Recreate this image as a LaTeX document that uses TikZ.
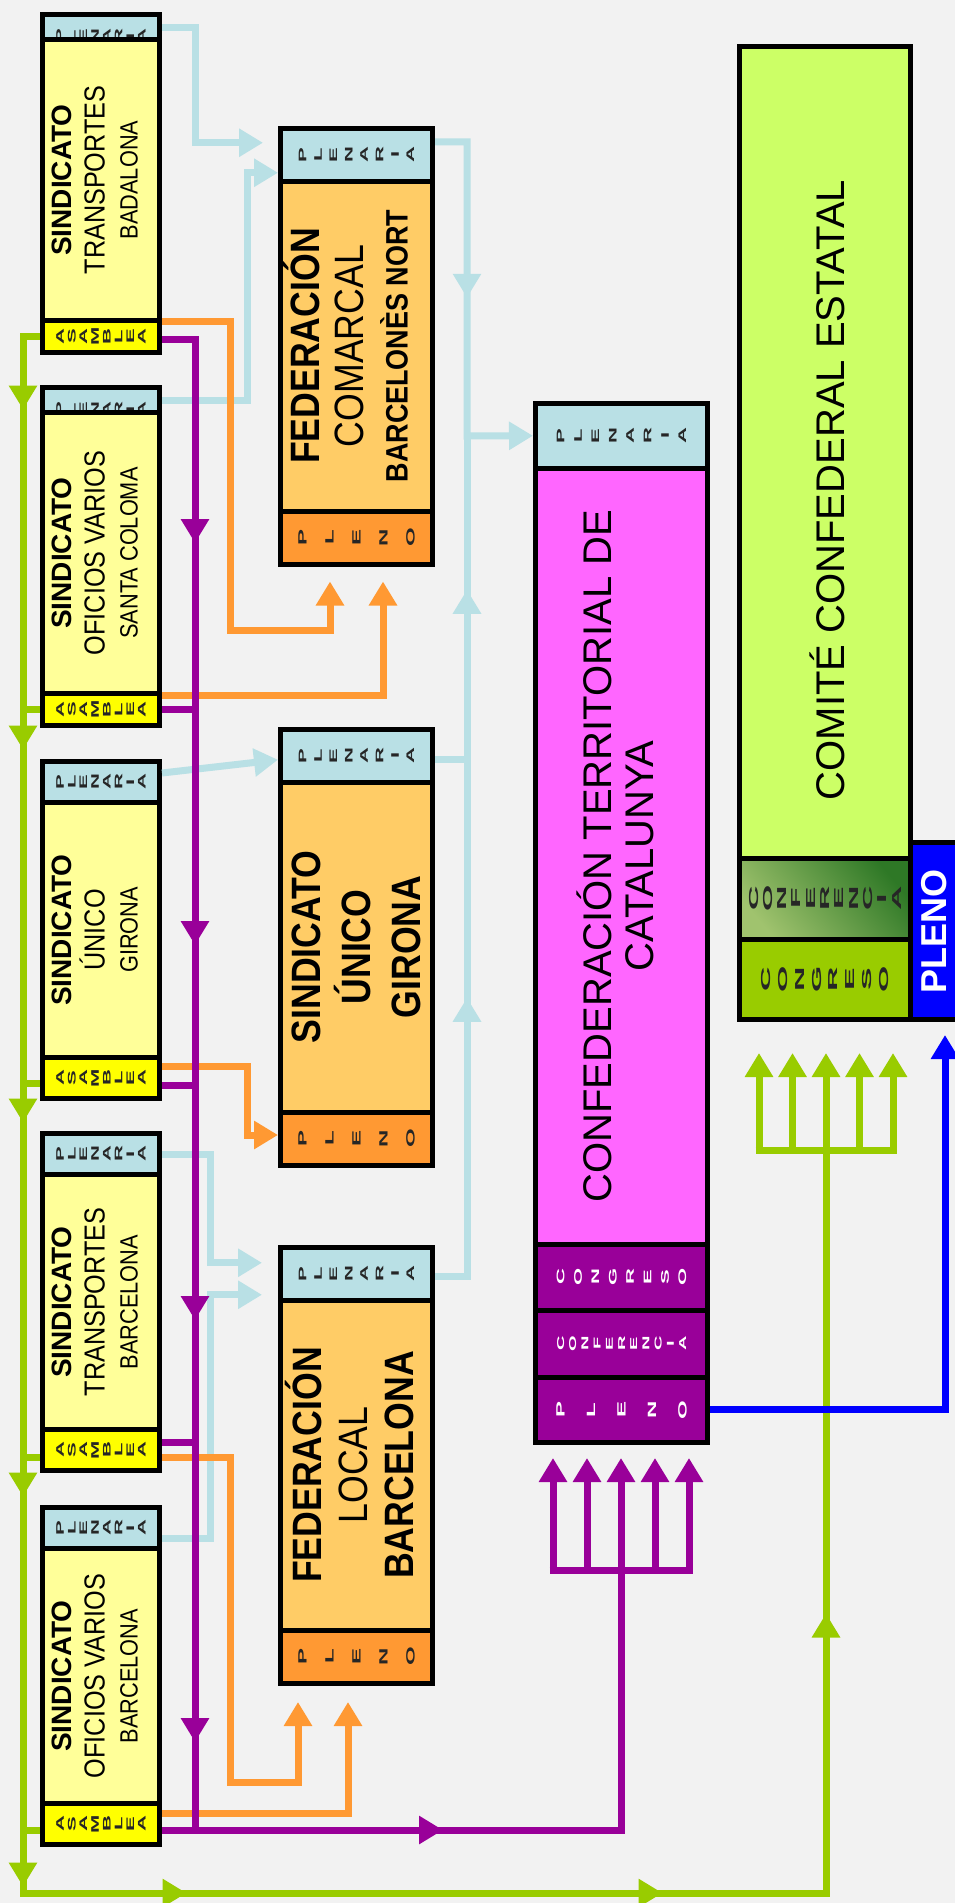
\documentclass[tikz,border=0pt]{standalone}
\usepackage{fontspec}
\setmainfont{Liberation Sans}
\newfontfamily\nar[FakeStretch=0.87]{Liberation Sans}
\newfontfamily\wid[FakeStretch=2]{Liberation Sans}
\newfontfamily\widr[FakeStretch=2.6]{Liberation Sans}
\usetikzlibrary{arrows.meta, decorations.markings}

\definecolor{bg}{RGB}{242,242,242}
\definecolor{plen}{RGB}{185,224,229}
\definecolor{sbody}{RGB}{255,255,153}
\definecolor{sasam}{RGB}{255,255,0}
\definecolor{fbody}{RGB}{255,204,102}
\definecolor{fpleno}{RGB}{255,153,51}
\definecolor{ctbody}{RGB}{255,102,255}
\definecolor{ctpurp}{RGB}{153,0,153}
\definecolor{cclime}{RGB}{204,255,102}
\definecolor{ccgreen}{RGB}{153,204,0}
\definecolor{cfdark}{RGB}{46,120,38}
\definecolor{cflight}{RGB}{160,195,110}
\definecolor{plenoblue}{RGB}{0,0,255}

\newcommand\sdlarge[1]{{\nar\mdseries\fontsize{29}{33}\selectfont #1}}
\newcommand\sdsmall[1]{{\nar\mdseries\fontsize{25}{33}\selectfont #1}}

\begin{document}
\begin{tikzpicture}[x=1pt, y=-1pt,
    sec/.style={draw=black, line width=5pt, inner sep=0pt, outer sep=2.5pt},
    lsec/.style={sec, minimum width=117pt},
    msec/.style={sec, minimum width=152pt},
    csec/.style={sec, minimum width=172pt},
    ksec/.style={sec, minimum width=171pt},
    vtxt/.style={rotate=90, align=center, inner sep=0pt},
    stxt/.style={vtxt, font=\bfseries\fontsize{28}{33}\selectfont},
    mtxt/.style={vtxt, font=\nar\bfseries\fontsize{41}{44}\selectfont},
    lab/.style={vtxt, text=black!85, font=\wid\bfseries\fontsize{11}{11.7}\selectfont},
    wire/.style={line width=7pt},
    lblu/.style={wire, draw=plen},
    orng/.style={wire, draw=fpleno},
    purp/.style={wire, draw=ctpurp},
    grn/.style={wire, draw=ccgreen},
    blu/.style={wire, draw=plenoblue},
    tip/.style={-{Triangle[length=24pt,width=27pt]}},
    mid/.style={postaction={decorate, decoration={markings,
        mark=at position #1 with {\arrow{Triangle[length=24pt,width=27pt]}}}}}]
    \useasboundingbox (0,0) rectangle (955,1903);
    \clip (0,0) rectangle (955,1903);
    \fill[bg] (0,0) rectangle (955,1903);

    % sindicatos
    \node[lsec, fill=plen, minimum height=25pt] (s1p) at (101,27) {};
    \node[lab] (s1pt) at (101,36.5) {P\\L\\E\\N\\A\\R\\I\\A};
    \node[lsec, fill=sbody, minimum height=281pt] (s1) at (101,180) {};
    \node[stxt] (s1t) at (95,180) {SINDICATO\\\sdlarge{TRANSPORTES}\\\sdsmall{BADALONA}};
    \node[lsec, fill=sasam, minimum height=32pt] (s1a) at (101,336.5) {};
    \node[lab] (s1at) at (101,336.5) {A\\S\\A\\M\\B\\L\\E\\A};

    \node[lsec, fill=plen, minimum height=25pt] (s2p) at (101,400) {};
    \node[lab] (s2pt) at (101,409.5) {P\\L\\E\\N\\A\\R\\I\\A};
    \node[lsec, fill=sbody, minimum height=281pt] (s2) at (101,553) {};
    \node[stxt] (s2t) at (95,553) {SINDICATO\\\sdlarge{OFICIOS VARIOS}\\\sdsmall{SANTA COLOMA}};
    \node[lsec, fill=sasam, minimum height=32pt] (s2a) at (101,709.5) {};
    \node[lab] (s2at) at (101,709.5) {A\\S\\A\\M\\B\\L\\E\\A};

    \node[lsec, fill=plen, minimum height=41pt] (s3p) at (101,782) {};
    \node[lab] (s3pt) at (101,782) {P\\L\\E\\N\\A\\R\\I\\A};
    \node[lsec, fill=sbody, minimum height=255pt] (s3) at (101,930) {};
    \node[stxt] (s3t) at (95,930) {SINDICATO\\\sdlarge{ÚNICO}\\\sdsmall{GIRONA}};
    \node[lsec, fill=sasam, minimum height=41pt] (s3a) at (101,1078) {};
    \node[lab] (s3at) at (101,1078) {A\\S\\A\\M\\B\\L\\E\\A};

    \node[lsec, fill=plen, minimum height=41pt] (s4p) at (101,1154) {};
    \node[lab] (s4pt) at (101,1154) {P\\L\\E\\N\\A\\R\\I\\A};
    \node[lsec, fill=sbody, minimum height=255pt] (s4) at (101,1302) {};
    \node[stxt] (s4t) at (95,1302) {SINDICATO\\\sdlarge{TRANSPORTES}\\\sdsmall{BARCELONA}};
    \node[lsec, fill=sasam, minimum height=41pt] (s4a) at (101,1450) {};
    \node[lab] (s4at) at (101,1450) {A\\S\\A\\M\\B\\L\\E\\A};

    \node[lsec, fill=plen, minimum height=41pt] (s5p) at (101,1528) {};
    \node[lab] (s5pt) at (101,1528) {P\\L\\E\\N\\A\\R\\I\\A};
    \node[lsec, fill=sbody, minimum height=255pt] (s5) at (101,1676) {};
    \node[stxt] (s5t) at (95,1676) {SINDICATO\\\sdlarge{OFICIOS VARIOS}\\\sdsmall{BARCELONA}};
    \node[lsec, fill=sasam, minimum height=41pt] (s5a) at (101,1824) {};
    \node[lab] (s5at) at (101,1824) {A\\S\\A\\M\\B\\L\\E\\A};

    % federaciones
    \node[msec, fill=plen, minimum height=52.5pt] (fcp) at (356.5,154.75) {};
    \node[lab, font=\wid\bfseries\fontsize{11}{15.4}\selectfont] (fcpt) at (356.5,154.75) {P\\L\\E\\N\\A\\R\\I\\A};
    \node[msec, fill=fbody, minimum height=330pt] (fc) at (356.5,346) {};
    \node[mtxt] (fct) at (345.5,346) {FEDERACIÓN\\{\mdseries COMARCAL}\\{\fontsize{31}{44}\selectfont BARCELONÈS NORT}};
    \node[msec, fill=fpleno, minimum height=53pt] (fcn) at (356.5,537.5) {};
    \node[lab, font=\wid\bfseries\fontsize{12}{27}\selectfont] (fcnt) at (356.5,537.5) {P\\L\\E\\N\\O};

    \node[msec, fill=plen, minimum height=52.5pt] (sgp) at (356.5,755.75) {};
    \node[lab, font=\wid\bfseries\fontsize{11}{15.4}\selectfont] (sgpt) at (356.5,755.75) {P\\L\\E\\N\\A\\R\\I\\A};
    \node[msec, fill=fbody, minimum height=330pt] (sg) at (356.5,947) {};
    \node[mtxt, font=\nar\bfseries\fontsize{41}{50}\selectfont] (sgt) at (356,947) {SINDICATO\\ÚNICO\\GIRONA};
    \node[msec, fill=fpleno, minimum height=53pt] (sgn) at (356.5,1138.5) {};
    \node[lab, font=\wid\bfseries\fontsize{12}{27}\selectfont] (sgnt) at (356.5,1138.5) {P\\L\\E\\N\\O};

    \node[msec, fill=plen, minimum height=52.5pt] (flp) at (356.5,1273.75) {};
    \node[lab, font=\wid\bfseries\fontsize{11}{15.4}\selectfont] (flpt) at (356.5,1273.75) {P\\L\\E\\N\\A\\R\\I\\A};
    \node[msec, fill=fbody, minimum height=330pt] (fl) at (356.5,1465) {};
    \node[mtxt, font=\nar\bfseries\fontsize{41}{46}\selectfont] (flt) at (350,1465) {FEDERACIÓN\\{\mdseries LOCAL}\\BARCELONA};
    \node[msec, fill=fpleno, minimum height=53pt] (fln) at (356.5,1656.5) {};
    \node[lab, font=\wid\bfseries\fontsize{12}{27}\selectfont] (flnt) at (356.5,1656.5) {P\\L\\E\\N\\O};

    % confederacion territorial
    \node[csec, fill=plen, minimum height=64.5pt] (ctp) at (621.5,435.75) {};
    \node[lab, font=\wid\bfseries\fontsize{11}{17.4}\selectfont] (ctpt) at (621.5,435.75) {P\\L\\E\\N\\A\\R\\I\\A};
    \node[csec, fill=ctbody, minimum height=776pt] (ct) at (621.5,856) {};
    \node[vtxt, font=\fontsize{40}{42}\selectfont] (ctt) at (615,856) {CONFEDERACIÓN TERRITORIAL DE\\CATALUNYA};
    \node[csec, fill=ctpurp, minimum height=66pt] (ctc) at (621.5,1277) {};
    \node[lab, text=white, font=\wid\bfseries\fontsize{11}{17.4}\selectfont] (ctct) at (621.5,1277) {C\\O\\N\\G\\R\\E\\S\\O};
    \node[csec, fill=ctpurp, minimum height=67pt] (ctf) at (621.5,1343.5) {};
    \node[lab, text=white, font=\wid\bfseries\fontsize{10}{12.2}\selectfont] (ctft) at (621.5,1343.5) {C\\O\\N\\F\\E\\R\\E\\N\\C\\I\\A};
    \node[csec, fill=ctpurp, minimum height=65.5pt] (ctn) at (621.5,1409.75) {};
    \node[lab, text=white, font=\wid\bfseries\fontsize{12}{30.5}\selectfont] (ctnt) at (621.5,1409.75) {P\\L\\E\\N\\O};

    % comite confederal
    \node[sec, fill=plenoblue, minimum width=47pt, minimum height=177pt] (ccn) at (934,931) {};
    \node[vtxt, text=white, font=\bfseries\fontsize{36}{40}\selectfont] (ccnt) at (934,931) {PLENO};
    \node[ksec, fill=cclime, minimum height=811.5pt] (cc) at (825,452.25) {};
    \node[vtxt, font=\fontsize{40}{42}\selectfont] (cct) at (827,490) {COMITÉ CONFEDERAL ESTATAL};
    \node[ksec, top color=cfdark, bottom color=cflight, shading angle=-50, minimum height=81pt] (ccf) at (825,898.5) {};
    \node[lab, font=\widr\bfseries\fontsize{13}{14.3}\selectfont] (ccft) at (825,898.5) {C\\O\\N\\F\\E\\R\\E\\N\\C\\I\\A};
    \node[ksec, fill=ccgreen, minimum height=80.5pt] (ccc) at (825,979.25) {};
    \node[lab, font=\widr\bfseries\fontsize{13}{16.9}\selectfont] (ccct) at (825,979.25) {C\\O\\N\\G\\R\\E\\S\\O};

    % plenarias
    \draw[lblu, tip] (s1p.east) -- (195,27) |- ([xshift=-15pt,yshift=12pt]fcp.west);
    \draw[lblu, tip] (s2p.east) -- (247,400) |- ([yshift=-18pt]fcp.west);
    \draw[lblu, tip] ([yshift=9pt]s3p.east) -- ([yshift=-4pt]sgp.west);
    \draw[lblu, tip] (s4p.east) -- (210,1154) |- ([xshift=-16pt,yshift=11pt]flp.west);
    \draw[lblu, tip] ([yshift=-10pt]s5p.east) -- (210,1538) |- ([xshift=-16pt,yshift=-21pt]flp.west);
    \coordinate (lbj) at (467,436);
    \draw[lblu, tip, mid=188pt] ([yshift=13pt]fcp.east) -| (lbj) -- (ctp.west);
    \draw[lblu, mid=202pt] ([yshift=-4pt]sgp.east) -| (lbj);
    \draw[lblu, mid=311pt] ([yshift=-3pt]flp.east) -| (lbj);

    % asambleas a plenos
    \draw[orng, tip] ([yshift=15.5pt]s1a.east) -- (230,321) |- (330,630) -- ([xshift=-26.5pt,yshift=-15pt]fcn.south);
    \draw[orng, tip] ([yshift=14.5pt]s2a.east) -| ([xshift=26.5pt,yshift=-15pt]fcn.south);
    \draw[orng, tip] ([yshift=12pt]s3a.east) -- (247,1066) |- ([yshift=3.5pt]sgn.west);
    \draw[orng, tip] ([yshift=-7pt]s4a.east) -- (230,1457) |- (298,1782) -- ([xshift=-58.5pt,yshift=-16.5pt]fln.south);
    \draw[orng, tip] ([yshift=11pt]s5a.east) -| ([xshift=-8.5pt,yshift=-16.5pt]fln.south);

    % asambleas a la confederacion
    \coordinate (pfork) at (621,1570);
    \draw[purp, mid=237pt, mid=639pt, mid=1014pt, mid=1436pt] ([yshift=-2.5pt]s1a.east) -| (195,1830);
    \draw[purp] (s2a.east) -- (195,709.5);
    \draw[purp] ([yshift=-7pt]s3a.east) -- (195,1085);
    \draw[purp] ([yshift=8pt]s4a.east) -- (195,1442);
    \draw[purp, mid=281pt] ([yshift=-6pt]s5a.east) -| (pfork);
    \draw[purp] ([xshift=-71.5pt]pfork) -- ([xshift=71.5pt]pfork);
    \foreach \dx in {-68,-34,0,34,68}
        \draw[purp, tip] ([xshift=\dx pt]pfork) -- ++(0,-112);

    % asambleas al comite
    \coordinate (gfork) at (826,1150);
    \draw[grn, mid=90pt, mid=430pt, mid=803pt, mid=1177pt, mid=1567pt, mid=1737pt, mid=2213pt, mid=2656pt]
        (s1a.west) -| (23,1893) -| (gfork);
    \draw[grn] (s2a.west) -- (23,709.5);
    \draw[grn] ([yshift=-5pt]s3a.west) -- (23,1083);
    \draw[grn] ([yshift=-7pt]s4a.west) -- (23,1457);
    \draw[grn] ([yshift=-6pt]s5a.west) -- (23,1830);
    \draw[grn] ([xshift=-70.5pt]gfork) -- ([xshift=70.5pt]gfork);
    \foreach \dx in {-67,-33.5,0,33.5,67}
        \draw[grn, tip] ([xshift=\dx pt]gfork) -- ++(0,-97);

    % pleno
    \draw[blu, tip] (ctn.east) -| ([xshift=11pt,yshift=-13pt]ccn.south);
\end{tikzpicture}
\end{document}
